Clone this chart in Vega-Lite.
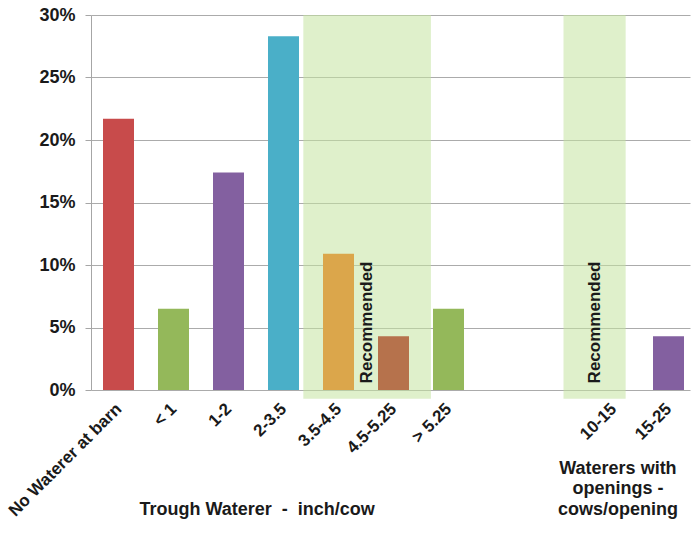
{
  "$schema": "https://vega.github.io/schema/vega-lite/v6.json",
  "width": 599,
  "height": 375,
  "autosize": {"type": "none"},
  "padding": {"left": 91, "top": 15, "right": 1, "bottom": 145},
  "background": "white",
  "config": {"view": {"stroke": null}, "font": "Liberation Sans"},
  "datasets": {
    "bars": [
      {"category": "No Waterer at barn", "percent": 21.7},
      {"category": "< 1", "percent": 6.5},
      {"category": "1-2", "percent": 17.4},
      {"category": "2-3.5", "percent": 28.3},
      {"category": "3.5-4.5", "percent": 10.9},
      {"category": "4.5-5.25", "percent": 4.3},
      {"category": "> 5.25", "percent": 6.5},
      {"category": "10-15", "percent": 0},
      {"category": "15-25", "percent": 4.3}
    ],
    "zones": [
      {"start": 3.36, "end": 5.68, "mid": 4.52, "label": "Recommended"},
      {"start": 8.09, "end": 9.22, "mid": 8.66, "label": "Recommended"}
    ],
    "trough": [
      {"title": "Trough Waterer \u00a0-\u00a0 inch/cow", "pos": 2.52}
    ],
    "openings": [
      {"title": ["Waterers with", "openings -", "cows/opening"], "pos": 9.08}
    ]
  },
  "layer": [
    {
      "layer": [
        {
          "data": {"name": "zones"},
          "mark": {"type": "rect", "fill": "#c4e4a0", "opacity": 0.55, "clip": false},
          "encoding": {
            "x": {"field": "start", "type": "quantitative", "scale": {"domain": [-0.5, 10.39], "nice": false, "zero": false}, "axis": null},
            "x2": {"field": "end"},
            "y": {"datum": 30, "type": "quantitative"},
            "y2": {"datum": -0.7}
          }
        },
        {
          "data": {"name": "zones"},
          "mark": {"type": "text", "angle": 270, "align": "left", "baseline": "middle", "fontSize": 17, "fontWeight": "bold", "color": "#1a1a1a"},
          "encoding": {
            "x": {"field": "mid", "type": "quantitative"},
            "y": {"datum": 0.53, "type": "quantitative"},
            "text": {"field": "label"}
          }
        },
        {
          "data": {"name": "trough"},
          "mark": {"type": "text", "align": "center", "baseline": "bottom", "fontSize": 18, "fontWeight": "bold", "color": "#1a1a1a"},
          "encoding": {
            "x": {"field": "pos", "type": "quantitative"},
            "y": {"datum": -10.3, "type": "quantitative"},
            "text": {"field": "title"}
          }
        },
        {
          "data": {"name": "openings"},
          "mark": {"type": "text", "align": "center", "baseline": "bottom", "fontSize": 18, "fontWeight": "bold", "lineHeight": 20.5, "color": "#1a1a1a"},
          "encoding": {
            "x": {"field": "pos", "type": "quantitative"},
            "y": {"datum": -7.0, "type": "quantitative"},
            "text": {"field": "title"}
          }
        }
      ]
    },
    {
      "data": {"name": "bars"},
      "mark": {"type": "bar", "size": 31},
      "encoding": {
        "x": {
          "field": "category",
          "type": "nominal",
          "sort": null,
          "scale": {"type": "point", "padding": 0, "range": [27.5, 577.5],
            "domain": ["No Waterer at barn", "< 1", "1-2", "2-3.5", "3.5-4.5", "4.5-5.25", "> 5.25", " ", "  ", "10-15", "15-25"]},
          "axis": {"orient": "bottom", "title": null, "labelAngle": -45, "labelAlign": "right", "labelBaseline": "middle", "labelFontSize": 17, "labelFontWeight": "bold", "labelColor": "#1a1a1a", "ticks": false, "domain": false, "grid": false, "labelPadding": 16, "labelOverlap": false, "labelLimit": 300}
        },
        "y": {
          "field": "percent",
          "type": "quantitative",
          "scale": {"domain": [0, 30], "nice": false},
          "axis": {"title": null, "values": [0, 5, 10, 15, 20, 25, 30], "labelExpr": "datum.value + '%'", "labelFontSize": 18, "labelFontWeight": "bold", "labelColor": "#1a1a1a", "grid": true, "gridColor": "#ababab", "domainColor": "#a6a6a6", "tickColor": "#a6a6a6", "tickSize": 6, "labelPadding": 10}
        },
        "color": {
          "field": "category",
          "type": "nominal",
          "legend": null,
          "scale": {
            "domain": ["No Waterer at barn", "< 1", "1-2", "2-3.5", "3.5-4.5", "4.5-5.25", "> 5.25", "10-15", "15-25"],
            "range": ["#c84b4b", "#94b85a", "#8360a0", "#4aafc8", "#dba64b", "#b6724c", "#94b85a", "#94b85a", "#8360a0"]
          }
        }
      }
    },
    {
      "mark": {"type": "rule", "color": "#404040", "strokeWidth": 2},
      "encoding": {"y": {"datum": 30, "type": "quantitative"}}
    }
  ],
  "resolve": {"scale": {"x": "independent"}, "axis": {"x": "independent"}}
}
